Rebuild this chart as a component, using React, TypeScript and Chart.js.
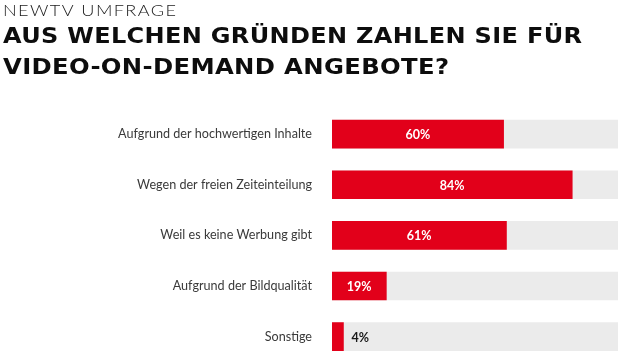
import React, { useEffect, useRef } from "react";
import { Chart, registerables } from "chart.js";

Chart.register(...registerables);

const supertitle = "NEWTV UMFRAGE";
const titleLines = ["AUS WELCHEN GRÜNDEN ZAHLEN SIE FÜR", "VIDEO-ON-DEMAND ANGEBOTE?"];
const categories = [
  "Aufgrund der hochwertigen Inhalte",
  "Wegen der freien Zeiteinteilung",
  "Weil es keine Werbung gibt",
  "Aufgrund der Bildqualität",
  "Sonstige",
];
const values = [60, 84, 61, 19, 4];
const totals = [100, 100, 100, 100, 100];

const RED = "#e2001a";
const GREY = "#ebebeb";

export default function App() {
  const ref = useRef<HTMLCanvasElement>(null);

  useEffect(() => {
    const canvas = ref.current;
    if (!canvas) return;

    const titlePlugin = {
      id: "titles",
      afterDraw(chart: any) {
        const ctx = chart.ctx as CanvasRenderingContext2D;
        const draw = (text: string, font: string, spacing: number, x: number, y: number, target: number, color: string) => {
          ctx.save();
          ctx.font = font;
          (ctx as any).letterSpacing = "0px";
          const w0 = ctx.measureText(text).width;
          const w = w0 + spacing * (text.length - 1);
          const sx = target / w;
          (ctx as any).letterSpacing = spacing + "px";
          ctx.fillStyle = color;
          ctx.textAlign = "left";
          ctx.textBaseline = "alphabetic";
          ctx.translate(x, y);
          ctx.scale(sx, 1);
          ctx.fillText(text, 0, 0);
          (ctx as any).letterSpacing = "0px";
          ctx.restore();
        };
        draw(supertitle, "300 15.5px Lato", 1.2, 3, 16, 173, "#1a1a1a");
        draw(titleLines[0], "bold 21.5px 'DejaVu Sans'", 0.3, 3, 43, 579, "#0d0d0d");
        draw(titleLines[1], "bold 21.5px 'DejaVu Sans'", 0.3, 3, 74, 446, "#0d0d0d");
      },
    };

    const valuePlugin = {
      id: "valueLabels",
      afterDatasetsDraw(chart: any) {
        const ctx = chart.ctx as CanvasRenderingContext2D;
        const meta = chart.getDatasetMeta(0);
        ctx.save();
        ctx.font = "bold 12.5px Lato";
        ctx.textBaseline = "middle";
        meta.data.forEach((bar: any, i: number) => {
          const v = values[i];
          const label = v + "%";
          if (v >= 10) {
            ctx.fillStyle = "#ffffff";
            ctx.textAlign = "center";
            ctx.fillText(label, (bar.base + bar.x) / 2, bar.y + 1);
          } else {
            ctx.fillStyle = "#1a1a1a";
            ctx.textAlign = "left";
            ctx.fillText(label, bar.x + 8, bar.y + 1);
          }
        });
        ctx.restore();
      },
    };

    const chart = new Chart(canvas, {
      type: "bar",
      data: {
        labels: categories,
        datasets: [
          {
            data: values,
            backgroundColor: RED,
            barThickness: 28,
            grouped: false,
            order: 0,
          },
          {
            data: totals,
            backgroundColor: GREY,
            barThickness: 28,
            grouped: false,
            order: 1,
          },
        ],
      },
      options: {
        indexAxis: "y",
        responsive: false,
        animation: false,
        devicePixelRatio: 1,
        layout: { padding: { top: 108.75, right: 2, bottom: 0, left: 0 } },
        plugins: {
          legend: { display: false },
          tooltip: { enabled: false },
          title: { display: false },
        },
        scales: {
          x: { display: false, min: 0, max: 100 },
          y: {
            afterFit(scale: any) {
              scale.width = 332;
              scale.paddingTop = 0;
              scale.paddingBottom = 0;
            },
            grid: { display: false, drawTicks: false },
            border: { display: false },
            ticks: {
              padding: 20,
              color: "#3a3a3a",
              font: { family: "Lato", size: 12.6 },
            },
          },
        },
      },
      plugins: [titlePlugin, valuePlugin],
    } as any);

    return () => chart.destroy();
  }, []);

  return (
    <div style={{ position: "fixed", left: 0, top: 0, width: 620, height: 354, overflow: "hidden", background: "#fff" }}>
      <canvas ref={ref} width={620} height={362} style={{ display: "block", width: 620, height: 362 }} />
    </div>
  );
}
